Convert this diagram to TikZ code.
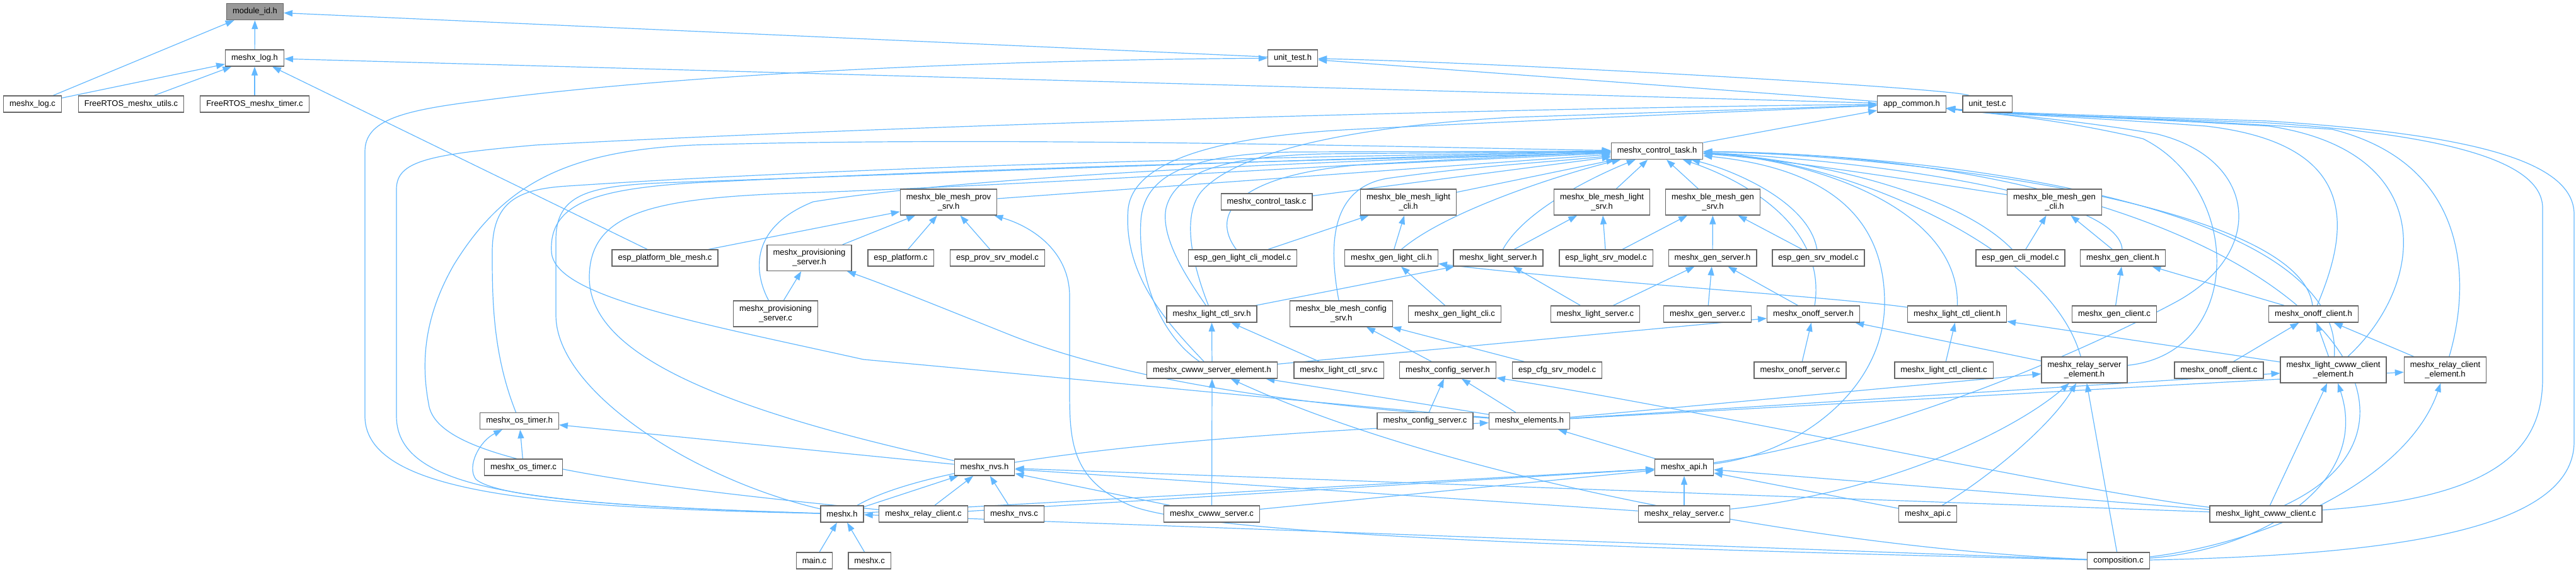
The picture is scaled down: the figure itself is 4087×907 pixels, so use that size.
\documentclass[tikz,border=0pt]{standalone}
\usepackage{fontspec}
\setmainfont{Liberation Sans}
\usetikzlibrary{arrows.meta,backgrounds}
\definecolor{edgeblue}{HTML}{63B8FF}
\definecolor{boxgray}{HTML}{666666}
\definecolor{fillgray}{HTML}{999999}
\newcommand\nfont{\fontsize{13}{15}\selectfont}
\tikzset{
 box/.style={draw=boxgray,line width=1.3pt,fill=white,font=\nfont,inner xsep=9.5pt,inner ysep=2pt,minimum height=26pt,align=center},
 box2/.style={box,minimum height=41pt},
 edge/.style={draw=edgeblue,line width=1.2pt,-{Triangle[length=14pt,width=10pt]}}
}
\begin{document}
\begin{tikzpicture}[x=1pt,y=-1pt]
\useasboundingbox (0,0) rectangle (4087,907);
% ---------------- nodes ----------------
\node[box,fill=fillgray] (modid) at (404.5,18.5) {module\_id.h};
\node[box] (logh) at (404,92) {meshx\_log.h};
\node[box] (uth) at (2051,92) {unit\_test.h};
\node[box] (logc) at (51.5,165) {meshx\_log.c};
\node[box] (frutil) at (208,165) {FreeRTOS\_meshx\_utils.c};
\node[box] (frtimer) at (404,165) {FreeRTOS\_meshx\_timer.c};
\node[box] (appc) at (3033,165) {app\_common.h};
\node[box] (utc) at (3153,165) {unit\_test.c};
\node[box] (ctlh) at (2629,239.5) {meshx\_control\_task.h};
\node[box2] (provsrv) at (1505,320.5) {meshx\_ble\_mesh\_prov\\\_srv.h};
\node[box] (ctlc) at (2009.5,320) {meshx\_control\_task.c};
\node[box2] (blelcli) at (2234.5,320.5) {meshx\_ble\_mesh\_light\\\_cli.h};
\node[box2] (blelsrv) at (2541.5,320.5) {meshx\_ble\_mesh\_light\\\_srv.h};
\node[box2] (blegsrv) at (2717.5,320.5) {meshx\_ble\_mesh\_gen\\\_srv.h};
\node[box2] (blegcli) at (3259.5,320.5) {meshx\_ble\_mesh\_gen\\\_cli.h};
\node[box] (espble) at (1055,409) {esp\_platform\_ble\_mesh.c};
\node[box2] (provh) at (1284,409) {meshx\_provisioning\\\_server.h};
\node[box] (espplat) at (1429,409) {esp\_platform.c};
\node[box] (espprov) at (1582.5,409) {esp\_prov\_srv\_model.c};
\node[box] (espglcm) at (1971.5,409) {esp\_gen\_light\_cli\_model.c};
\node[box] (glclih) at (2207.5,409) {meshx\_gen\_light\_cli.h};
\node[box] (lsrvh) at (2377,409) {meshx\_light\_server.h};
\node[box] (esplsm) at (2548,409) {esp\_light\_srv\_model.c};
\node[box] (gsrvh) at (2717,409) {meshx\_gen\_server.h};
\node[box] (espgsm) at (2885,409) {esp\_gen\_srv\_model.c};
\node[box] (espgcm) at (3205.5,409) {esp\_gen\_cli\_model.c};
\node[box] (gclih) at (3368,409) {meshx\_gen\_client.h};
\node[box2] (provc) at (1230.5,497.5) {meshx\_provisioning\\\_server.c};
\node[box] (lctlsh) at (1922.5,498) {meshx\_light\_ctl\_srv.h};
\node[box2] (cfgsrvh) at (2128,497.5) {meshx\_ble\_mesh\_config\\\_srv.h};
\node[box] (glclic) at (2308,498) {meshx\_gen\_light\_cli.c};
\node[box] (lsrvc) at (2531,498) {meshx\_light\_server.c};
\node[box] (gsrvc) at (2709,498) {meshx\_gen\_server.c};
\node[box] (onsh) at (2877,498) {meshx\_onoff\_server.h};
\node[box] (lctlch) at (3105,498) {meshx\_light\_ctl\_client.h};
\node[box] (gclic) at (3354.5,498) {meshx\_gen\_client.c};
\node[box] (onch) at (3670.5,498) {meshx\_onoff\_client.h};
\node[box] (cwseh) at (1923,587) {meshx\_cwww\_server\_element.h};
\node[box] (lctlsc) at (2124,587) {meshx\_light\_ctl\_srv.c};
\node[box] (confh) at (2297,587) {meshx\_config\_server.h};
\node[box] (espcfg) at (2470.6,587) {esp\_cfg\_srv\_model.c};
\node[box] (onsc) at (2856,587) {meshx\_onoff\_server.c};
\node[box] (lctlcc) at (3084,587) {meshx\_light\_ctl\_client.c};
\node[box2] (rseh) at (3307,586.5) {meshx\_relay\_server\\\_element.h};
\node[box] (oncc) at (3520.5,587) {meshx\_onoff\_client.c};
\node[box2] (lcceh) at (3702,586.5) {meshx\_light\_cwww\_client\\\_element.h};
\node[box2] (rceh) at (3879.5,586.5) {meshx\_relay\_client\\\_element.h};
\node[box] (ostimh) at (824,667.5) {meshx\_os\_timer.h};
\node[box] (confc) at (2261,667.5) {meshx\_config\_server.c};
\node[box] (elemh) at (2426.5,667.5) {meshx\_elements.h};
\node[box] (ostimc) at (830.5,741) {meshx\_os\_timer.c};
\node[box] (nvsh) at (1562,741) {meshx\_nvs.h};
\node[box] (apih) at (2672,741) {meshx\_api.h};
\node[box] (meshxh) at (1336,815) {meshx.h};
\node[box] (rclc) at (1465,815) {meshx\_relay\_client.c};
\node[box] (nvsc) at (1609,815) {meshx\_nvs.c};
\node[box] (cwsc) at (1922.5,815) {meshx\_cwww\_server.c};
\node[box] (rsrvc) at (2672,815) {meshx\_relay\_server.c};
\node[box] (apic) at (3058.5,815) {meshx\_api.c};
\node[box] (lccc) at (3595,815) {meshx\_light\_cwww\_client.c};
\node[box] (mainc) at (1292,889) {main.c};
\node[box] (meshxc) at (1379.6,889) {meshx.c};
\node[box] (compc) at (3361,889) {composition.c};
% ---------------- edges ----------------
\begin{pgfonlayer}{background}
% module_id.h
\draw[edge] (logh) -- (modid);
\draw[edge] (logc) -- (modid);
\draw[edge] (uth) -- (modid);
% meshx_log.h
\draw[edge] (logc) -- (logh);
\draw[edge] (frutil) -- (logh);
\draw[edge] (frtimer) -- (logh);
\draw[edge] (appc) -- (logh);
\draw[edge] (espble) -- (logh);
% unit_test.h
\draw[edge] (appc) -- (uth);
\draw[edge] (utc) .. controls (3100,140) and (2400,100) .. (uth);
\draw[edge] (meshxh) .. controls (900,805) and (579,790) .. (579,660) -- (579,240) .. controls (579,190) and (640,175) .. (760,160) .. controls (1100,115) and (1600,95) .. (uth);
% app_common.h
\draw[edge] (ctlh) -- (appc);
\draw[edge] (meshxh) .. controls (850,800) and (629,780) .. (629,660) -- (629,300) .. controls (629,255) and (680,245) .. (850,230) .. controls (1500,195) and (2500,170) .. (appc);
\draw[edge] (lctlsh) .. controls (1900,440) and (1870,350) .. (1905,305) .. controls (1960,240) and (2150,200) .. (2400,186) -- (appc);
\draw[edge] (cwseh) .. controls (1860,520) and (1780,440) .. (1790,330) .. controls (1800,250) and (1950,215) .. (2150,205) .. controls (2450,190) and (2800,175) .. (appc);
\draw[edge] (rseh) .. controls (3560,560) and (3560,300) .. (3400,220) .. controls (3250,185) and (3150,180) .. (appc);
\draw[edge] (apih) .. controls (3000,690) and (3300,560) .. (3450,480) .. controls (3600,400) and (3580,250) .. (3420,212) .. controls (3260,185) and (3150,180) .. (appc);
\draw[edge] (onch) .. controls (3720,380) and (3760,230) .. (3500,200) .. controls (3300,185) and (3150,180) .. (appc);
\draw[edge] (lcceh) .. controls (3850,450) and (3870,240) .. (3600,200) .. controls (3350,185) and (3150,180) .. (appc);
\draw[edge] (rceh) .. controls (3920,450) and (3920,260) .. (3700,205) .. controls (3400,185) and (3150,180) .. (appc);
\draw[edge] (lccc) .. controls (3950,790) and (4034,720) .. (4034,600) -- (4034,330) .. controls (4034,260) and (3900,215) .. (3600,195) .. controls (3300,183) and (3150,180) .. (appc);
\draw[edge] (compc) .. controls (3800,880) and (4084,840) .. (4084,700) -- (4084,340) .. controls (4084,250) and (3900,212) .. (3600,192) .. controls (3300,182) and (3150,178) .. (appc);
% meshx_control_task.h left side
\draw[edge] (provsrv) -- (ctlh);
\draw[edge] (ctlc) -- (ctlh);
\draw[edge] (espglcm) .. controls (1920,340) and (1960,280) .. (2150,262) -- (ctlh);
\draw[edge] (lctlsh) .. controls (1890,450) and (1840,380) .. (1850,330) .. controls (1865,270) and (1950,248) .. (2100,244) -- (ctlh);
\draw[edge] (cwseh) .. controls (1840,530) and (1805,440) .. (1810,350) .. controls (1815,280) and (1880,245) .. (2050,241) -- (ctlh);
\draw[edge] (ostimh) .. controls (781,560) and (781,470) .. (781,400) .. controls (781,320) and (820,300) .. (900,295) .. controls (1500,255) and (2300,245) .. (ctlh);
\draw[edge] (nvsh) .. controls (1100,640) and (935,550) .. (935,440) .. controls (935,330) and (1050,312) .. (1300,305) .. controls (1800,285) and (2300,250) .. (ctlh);
\draw[edge] (meshxh) .. controls (1100,760) and (882,620) .. (882,500) -- (882,380) .. controls (882,310) and (930,295) .. (1050,290) .. controls (1600,270) and (2300,245) .. (ctlh);
\draw[edge] (rclc) .. controls (900,760) and (690,720) .. (680,640) .. controls (665,560) and (680,490) .. (720,420) .. controls (800,290) and (900,240) .. (1100,230) .. controls (1600,215) and (2300,235) .. (ctlh);
\draw[edge] (provc) .. controls (1195,430) and (1190,360) .. (1290,320) .. controls (1600,270) and (2300,250) .. (ctlh);
\draw[edge] (elemh) .. controls (2100,640) and (1700,600) .. (1370,570) .. controls (1100,510) and (880,470) .. (875,400) .. controls (870,320) and (950,300) .. (1100,290) .. controls (1700,260) and (2300,250) .. (ctlh);
% meshx_control_task.h bottom
\draw[edge] (blelcli) -- (ctlh);
\draw[edge] (blelsrv) -- (ctlh);
\draw[edge] (blegsrv) -- (ctlh);
\draw[edge] (glclih) .. controls (2300,330) and (2500,270) .. (ctlh);
\draw[edge] (lsrvh) .. controls (2420,330) and (2540,275) .. (ctlh);
\draw[edge] (cfgsrvh) .. controls (2110,400) and (2105,300) .. (2200,283) .. controls (2350,262) and (2450,258) .. (ctlh);
\draw[edge] (apih) .. controls (2850,720) and (2990,620) .. (2990,480) .. controls (2990,330) and (2880,265) .. (ctlh);
% meshx_control_task.h right side
\draw[edge] (espgsm) .. controls (2870,320) and (2750,270) .. (ctlh);
\draw[edge] (espgcm) .. controls (3100,300) and (2850,250) .. (ctlh);
\draw[edge] (blegcli) .. controls (3000,280) and (2800,250) .. (ctlh);
\draw[edge] (gclih) .. controls (3360,300) and (2900,250) .. (ctlh);
\draw[edge] (onsh) .. controls (2900,350) and (2750,280) .. (ctlh);
\draw[edge] (lctlch) .. controls (3110,320) and (2850,250) .. (ctlh);
\draw[edge] (onch) .. controls (3650,320) and (3000,245) .. (ctlh);
\draw[edge] (lcceh) .. controls (3720,330) and (3100,245) .. (ctlh);
\draw[edge] (lccc) .. controls (3950,650) and (3600,250) .. (ctlh);
\draw[edge] (rseh) .. controls (3250,380) and (2900,250) .. (ctlh);
% meshx_ble_mesh_prov_srv.h
\draw[edge] (espble) -- (provsrv);
\draw[edge] (provh) -- (provsrv);
\draw[edge] (espplat) -- (provsrv);
\draw[edge] (espprov) -- (provsrv);
\draw[edge] (compc) .. controls (2600,870) and (1900,850) .. (1790,800) .. controls (1700,760) and (1697,700) .. (1697,620) -- (1697,470) .. controls (1697,400) and (1640,360) .. (provsrv);
% meshx_provisioning_server.h
\draw[edge] (provc) -- (provh);
\draw[edge] (elemh) .. controls (2100,645) and (1800,610) .. (1600,530) .. controls (1450,470) and (1400,450) .. (provh);
% ble mesh headers
\draw[edge] (espglcm) -- (blelcli);
\draw[edge] (glclih) -- (blelcli);
\draw[edge] (lsrvh) -- (blelsrv);
\draw[edge] (esplsm) -- (blelsrv);
\draw[edge] (esplsm) -- (blegsrv);
\draw[edge] (gsrvh) -- (blegsrv);
\draw[edge] (espgsm) -- (blegsrv);
\draw[edge] (espgcm) -- (blegcli);
\draw[edge] (gclih) -- (blegcli);
% model headers
\draw[edge] (glclic) -- (glclih);
\draw[edge] (lctlch) .. controls (2900,470) and (2500,445) .. (glclih);
\draw[edge] (lctlsh) -- (lsrvh);
\draw[edge] (lsrvc) -- (lsrvh);
\draw[edge] (lsrvc) -- (gsrvh);
\draw[edge] (gsrvc) -- (gsrvh);
\draw[edge] (onsh) -- (gsrvh);
\draw[edge] (gclic) -- (gclih);
\draw[edge] (onch) -- (gclih);
\draw[edge] (cwseh) -- (lctlsh);
\draw[edge] (lctlsc) -- (lctlsh);
\draw[edge] (confh) -- (cfgsrvh);
\draw[edge] (espcfg) -- (cfgsrvh);
\draw[edge] (onsc) -- (onsh);
\draw[edge] (cwseh) -- (onsh);
\draw[edge] (rseh) -- (onsh);
\draw[edge] (lctlcc) -- (lctlch);
\draw[edge] (lcceh) -- (lctlch);
\draw[edge] (oncc) -- (onch);
\draw[edge] (lcceh) -- (onch);
\draw[edge] (rceh) -- (onch);
% element headers
\draw[edge] (cwsc) -- (cwseh);
\draw[edge] (elemh) -- (cwseh);
\draw[edge] (compc) .. controls (2900,870) and (2300,760) .. (cwseh);
\draw[edge] (confc) -- (confh);
\draw[edge] (elemh) -- (confh);
\draw[edge] (lccc) .. controls (3300,780) and (2700,650) .. (confh);
\draw[edge] (elemh) -- (rseh);
\draw[edge] (rsrvc) .. controls (3000,780) and (3200,680) .. (rseh);
\draw[edge] (apic) .. controls (3150,760) and (3250,680) .. (rseh);
\draw[edge] (compc) -- (rseh);
\draw[edge] (elemh) -- (lcceh);
\draw[edge] (lccc) -- (lcceh);
\draw[edge] (compc) .. controls (3600,870) and (3760,760) .. (lcceh);
\draw[edge] (elemh) -- (rceh);
\draw[edge] (compc) .. controls (3600,860) and (3820,760) .. (rceh);
% meshx_elements.h
\draw[edge] (meshxh) .. controls (1450,750) and (1700,700) .. (elemh);
\draw[edge] (apih) -- (elemh);
% meshx_os_timer.h
\draw[edge] (ostimc) -- (ostimh);
\draw[edge] (meshxh) .. controls (1000,805) and (790,790) .. (755,760) .. controls (740,740) and (760,700) .. (ostimh);
\draw[edge] (nvsh) -- (ostimh);
% meshx_nvs.h
\draw[edge] (meshxh) -- (nvsh);
\draw[edge] (rclc) -- (nvsh);
\draw[edge] (nvsc) -- (nvsh);
\draw[edge] (cwsc) -- (nvsh);
\draw[edge] (rsrvc) -- (nvsh);
\draw[edge] (lccc) -- (nvsh);
% meshx_api.h
\draw[edge] (meshxh) -- (apih);
\draw[edge] (rclc) -- (apih);
\draw[edge] (cwsc) -- (apih);
\draw[edge] (rsrvc) -- (apih);
\draw[edge] (apic) -- (apih);
\draw[edge] (lccc) -- (apih);
% meshx.h
\draw[edge] (mainc) -- (meshxh);
\draw[edge] (meshxc) -- (meshxh);
\draw[edge] (compc) -- (meshxh);
\end{pgfonlayer}
\end{tikzpicture}
\end{document}
